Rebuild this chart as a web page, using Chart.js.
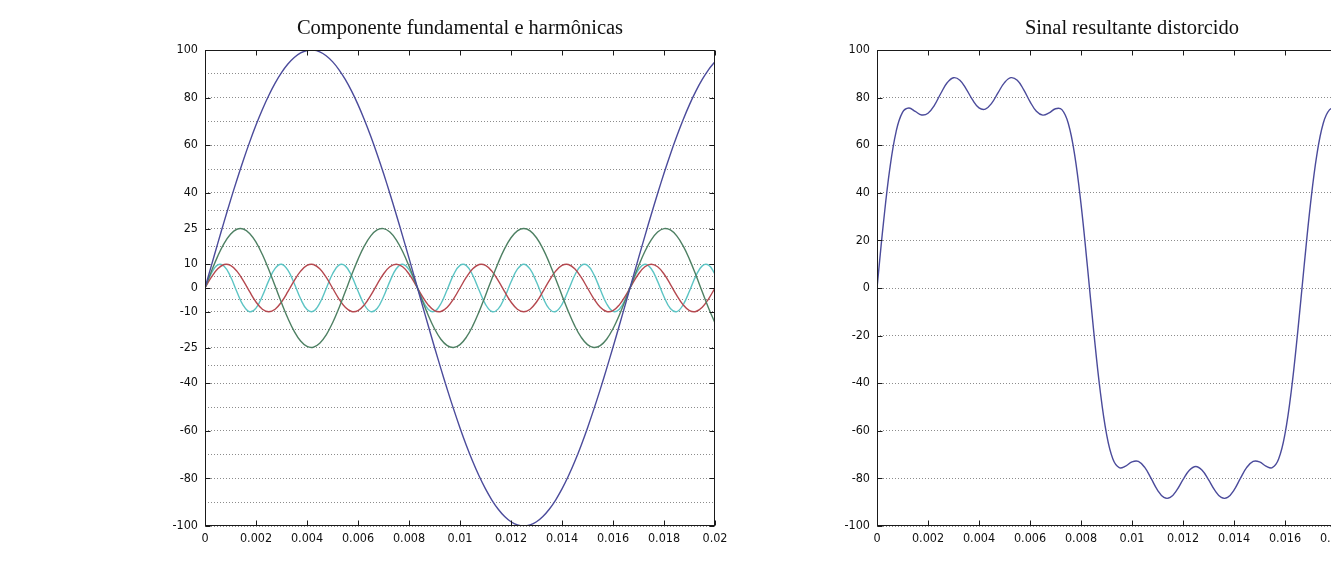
<!DOCTYPE html>
<html lang="pt">
<head>
<meta charset="utf-8">
<title>Componente fundamental e harmônicas</title>
<script src="https://cdn.jsdelivr.net/npm/chart.js@4.4.1/dist/chart.umd.min.js"></script>
<style>
    html, body { margin: 0; padding: 0; background: #fff; width: 1331px; height: 571px; overflow: hidden; }
    .plot-box { position: absolute; top: 0; width: 600px; height: 571px; }
    #leftBox { left: 150px; }
    #rightBox { left: 822px; }
</style>
</head>
<body>
<div class="plot-box" id="leftBox"><canvas id="harmonicsChart"></canvas></div>
<div class="plot-box" id="rightBox"><canvas id="distortedChart"></canvas></div>
<script>
// sample times (s)
const times = [
    0, 0.00025, 0.0005, 0.00075, 0.001, 0.00125, 0.0015, 0.00175,
    0.002, 0.00225, 0.0025, 0.00275, 0.003, 0.00325, 0.0035, 0.00375,
    0.004, 0.00425, 0.0045, 0.00475, 0.005, 0.00525, 0.0055, 0.00575,
    0.006, 0.00625, 0.0065, 0.00675, 0.007, 0.00725, 0.0075, 0.00775,
    0.008, 0.00825, 0.0085, 0.00875, 0.009, 0.00925, 0.0095, 0.00975,
    0.01, 0.01025, 0.0105, 0.01075, 0.011, 0.01125, 0.0115, 0.01175,
    0.012, 0.01225, 0.0125, 0.01275, 0.013, 0.01325, 0.0135, 0.01375,
    0.014, 0.01425, 0.0145, 0.01475, 0.015, 0.01525, 0.0155, 0.01575,
    0.016, 0.01625, 0.0165, 0.01675, 0.017, 0.01725, 0.0175, 0.01775,
    0.018, 0.01825, 0.0185, 0.01875, 0.019, 0.01925, 0.0195, 0.01975,
    0.02
];

// fundamental (blue)
const fundamental = [
    0, 9.41, 18.74, 27.90, 36.81, 45.40, 53.58, 61.29,
    68.46, 75.01, 80.90, 86.07, 90.48, 94.09, 96.86, 98.77,
    99.80, 99.95, 99.21, 97.59, 95.11, 91.78, 87.63, 82.71,
    77.05, 70.71, 63.74, 56.21, 48.18, 39.72, 30.90, 21.81,
    12.53, 3.14, -6.28, -15.64, -24.87, -33.87, -42.58, -50.90,
    -58.78, -66.13, -72.90, -79.02, -84.43, -89.10, -92.98, -96.03,
    -98.23, -99.56, -100, -99.56, -98.23, -96.03, -92.98, -89.10,
    -84.43, -79.02, -72.90, -66.13, -58.78, -50.90, -42.58, -33.87,
    -24.87, -15.64, -6.28, 3.14, 12.53, 21.81, 30.90, 39.72,
    48.18, 56.21, 63.74, 70.71, 77.05, 82.71, 87.63, 91.78,
    95.11
];

// 3rd harmonic (green)
const harmonic3 = [
    0, 6.97, 13.40, 18.75, 22.62, 24.69, 24.80, 22.94,
    19.26, 14.05, 7.73, 0.79, -6.22, -12.73, -18.22, -22.28,
    -24.56, -24.89, -23.24, -19.75, -14.69, -8.47, -1.57, 5.45,
    12.04, 17.68, 21.91, 24.40, 24.95, 23.52, 20.23, 15.32,
    9.20, 2.35, -4.68, -11.35, -17.11, -21.52, -24.21, -24.99,
    -23.78, -20.68, -15.94, -9.93, -3.13, 3.91, 10.64, 16.53,
    21.11, 24.01, 25, 24.01, 21.11, 16.53, 10.64, 3.91,
    -3.13, -9.93, -15.94, -20.68, -23.78, -24.99, -24.21, -21.52,
    -17.11, -11.35, -4.68, 2.35, 9.20, 15.32, 20.23, 23.52,
    24.95, 24.40, 21.91, 17.68, 12.04, 5.45, -1.57, -8.47,
    -14.69
];

// 5th harmonic (red)
const harmonic5 = [
    0, 4.54, 8.09, 9.88, 9.51, 7.07, 3.09, -1.56,
    -5.88, -8.91, -10, -8.91, -5.88, -1.56, 3.09, 7.07,
    9.51, 9.88, 8.09, 4.54, 0, -4.54, -8.09, -9.88,
    -9.51, -7.07, -3.09, 1.56, 5.88, 8.91, 10, 8.91,
    5.88, 1.56, -3.09, -7.07, -9.51, -9.88, -8.09, -4.54,
    0, 4.54, 8.09, 9.88, 9.51, 7.07, 3.09, -1.56,
    -5.88, -8.91, -10, -8.91, -5.88, -1.56, 3.09, 7.07,
    9.51, 9.88, 8.09, 4.54, 0, -4.54, -8.09, -9.88,
    -9.51, -7.07, -3.09, 1.56, 5.88, 8.91, 10, 8.91,
    5.88, 1.56, -3.09, -7.07, -9.51, -9.88, -8.09, -4.54,
    0
];

// 7th harmonic (cyan)
const harmonic7 = [
    0, 6.13, 9.69, 9.18, 4.82, -1.56, -7.29, -9.96,
    -8.44, -3.39, 3.09, 8.27, 9.98, 7.50, 1.87, -4.54,
    -9.05, -9.76, -6.37, -0.31, 5.88, 9.60, 9.30, 5.09,
    -1.25, -7.07, -9.92, -8.61, -3.68, 2.79, 8.09, 9.99,
    7.71, 2.18, -4.26, -8.91, -9.82, -6.61, -0.63, 5.62,
    9.51, 9.41, 5.36, -0.94, -6.85, -9.88, -8.76, -3.97,
    2.49, 7.90, 10, 7.90, 2.49, -3.97, -8.76, -9.88,
    -6.85, -0.94, 5.36, 9.41, 9.51, 5.62, -0.63, -6.61,
    -9.82, -8.91, -4.26, 2.18, 7.71, 9.99, 8.09, 2.79,
    -3.68, -8.61, -9.92, -7.07, -1.25, 5.09, 9.30, 9.60,
    5.88
];

// resulting distorted signal
const distorted = [
    0, 27.05, 49.92, 65.71, 73.76, 75.60, 74.18, 72.71,
    73.40, 76.76, 81.72, 86.22, 88.36, 87.30, 83.60, 79.02,
    75.70, 75.18, 77.69, 82.07, 86.30, 88.37, 87.27, 83.37,
    78.33, 74.25, 72.64, 73.56, 75.33, 74.94, 69.22, 56.03,
    35.32, 9.23, -18.31, -42.97, -61.31, -71.88, -75.51, -74.81,
    -73.05, -72.86, -75.39, -80.01, -84.90, -88.00, -88.01, -85.03,
    -80.51, -76.56, -75.00, -76.56, -80.51, -85.03, -88.01, -88.00,
    -84.90, -80.01, -75.39, -72.86, -73.05, -74.81, -75.51, -71.88,
    -61.31, -42.97, -18.31, 9.23, 35.32, 56.03, 69.22, 74.94,
    75.33, 73.56, 72.64, 74.25, 78.33, 83.37, 87.27, 88.37,
    86.30
];

// axis ticks
const xTickValues = [0, 0.002, 0.004, 0.006, 0.008, 0.01, 0.012, 0.014, 0.016, 0.018, 0.02];
const xTickLabels = ['0', '0.002', '0.004', '0.006', '0.008', '0.01', '0.012', '0.014', '0.016', '0.018', '0.02'];
const leftYTicks = [-100, -80, -60, -40, -25, -10, 0, 10, 25, 40, 60, 80, 100];
const leftYMinor = [-90, -70, -50, -32.5, -17.5, -5, 5, 17.5, 32.5, 50, 70, 90];
const rightYTicks = [-100, -80, -60, -40, -20, 0, 20, 40, 60, 80, 100];

const TICK_FONT = { family: "'DejaVu Sans Condensed', 'Liberation Sans Narrow', sans-serif", size: 12.5 };
const TITLE_FONT = { family: "'Liberation Serif', 'Times New Roman', serif", size: 20.5, weight: 'normal' };

const toPoints = (ys) => times.map((t, i) => ({ x: t, y: ys[i] }));

// box + inward tick marks, like a matlab axes
const matlabFrame = {
    id: 'matlabFrame',
    afterDatasetsDraw(chart, args, opts) {
        const { ctx, chartArea: a, scales: { x, y } } = chart;
        const L = Math.round(a.left) + 0.5, R = Math.round(a.right) - 0.5;
        const T = Math.round(a.top) + 0.5, B = Math.round(a.bottom) - 0.5;
        ctx.save();
        ctx.strokeStyle = '#1a1a1a';
        ctx.lineWidth = 1;
        ctx.beginPath();
        xTickValues.forEach(v => {
            const px = Math.round(x.getPixelForValue(v)) + 0.5;
            ctx.moveTo(px, B); ctx.lineTo(px, B - 5);
            ctx.moveTo(px, T); ctx.lineTo(px, T + 5);
        });
        opts.yTicks.forEach(v => {
            const py = Math.round(y.getPixelForValue(v)) + 0.5;
            ctx.moveTo(L, py); ctx.lineTo(L + 5, py);
            ctx.moveTo(R, py); ctx.lineTo(R - 5, py);
        });
        ctx.stroke();
        ctx.strokeRect(L, T, R - L, B - T);
        ctx.restore();
    }
};

const makeOptions = (title, yTicks, yGrid) => ({
    responsive: true,
    maintainAspectRatio: false,
    animation: false,
    layout: { padding: { left: 0, right: 35, top: 0, bottom: 0 } },
    plugins: {
        legend: { display: false },
        tooltip: { enabled: false },
        title: {
            display: true,
            text: title,
            fullSize: false,
            color: '#111',
            font: TITLE_FONT,
            padding: { top: 16, bottom: 9.4 }
        },
        matlabFrame: { yTicks: yTicks }
    },
    scales: {
        x: {
            type: 'linear',
            min: 0,
            max: 0.02,
            afterBuildTicks: (s) => { s.ticks = xTickValues.map(v => ({ value: v })); },
            afterFit: (s) => { s.height = 45; },
            grid: { display: false, drawTicks: false },
            border: { display: false },
            ticks: {
                autoSkip: false,
                maxRotation: 0,
                padding: 5,
                color: '#111',
                font: TICK_FONT,
                callback: (v, i) => xTickLabels[i]
            }
        },
        y: {
            type: 'linear',
            min: -100,
            max: 100,
            afterBuildTicks: (s) => { s.ticks = yGrid.map(v => ({ value: v })); },
            afterFit: (s) => { s.width = 55; },
            grid: { color: '#8c8c8c', lineWidth: 1, drawTicks: false },
            border: { display: false, dash: [1, 2] },
            ticks: {
                autoSkip: false,
                padding: 7,
                color: '#111',
                font: TICK_FONT,
                callback: (v) => yTicks.includes(v) ? String(v) : ''
            }
        }
    }
});

const lineSet = (data, color) => ({
    data: toPoints(data),
    borderColor: color,
    borderWidth: 1.4,
    pointRadius: 0,
    fill: false,
    tension: 0.4
});

const leftGrid = [...leftYTicks, ...leftYMinor].sort((a, b) => a - b);

new Chart(document.getElementById('harmonicsChart'), {
    type: 'line',
    data: {
        datasets: [
            lineSet(fundamental, '#4b4b9b'),
            lineSet(harmonic3, '#4e8063'),
            lineSet(harmonic5, '#b5484f'),
            lineSet(harmonic7, '#5cc4c4')
        ]
    },
    options: makeOptions('Componente fundamental e harmônicas', leftYTicks, leftGrid),
    plugins: [matlabFrame]
});

new Chart(document.getElementById('distortedChart'), {
    type: 'line',
    data: {
        datasets: [lineSet(distorted, '#4b4b9b')]
    },
    options: makeOptions('Sinal resultante distorcido', rightYTicks, rightYTicks),
    plugins: [matlabFrame]
});
</script>
</body>
</html>
